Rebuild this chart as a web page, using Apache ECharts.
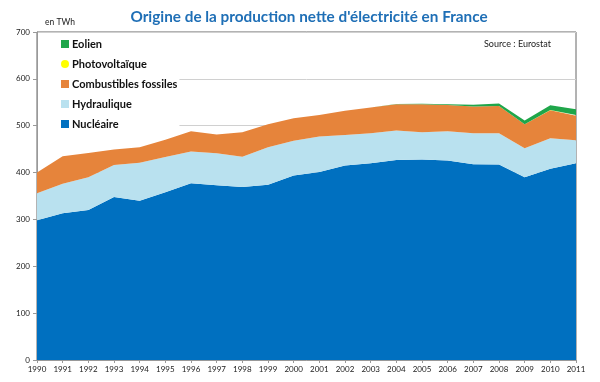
<!DOCTYPE html>
<html>
<head>
<meta charset="utf-8">
<script src="https://cdn.jsdelivr.net/npm/echarts@6/dist/echarts.min.js"></script>
<style>html,body{margin:0;padding:0;background:#fff}#c{width:600px;height:382px}</style>
</head>
<body>
<div id="c"></div>
<script>
const years = ['1990','1991','1992','1993','1994','1995','1996','1997','1998','1999','2000','2001','2002','2003','2004','2005','2006','2007','2008','2009','2010','2011'];
const nucleaire = [298,313,320,348,340,358,377,373,369,374,394,401,415,420,427,428,426,418,417,390,408,420];
const hydraulique = [58,63,70,68,81,75,68,68,65,80,74,76,65,64,63,58,62,66,67,62,65,49];
const fossiles = [44,59,52,33,33,37,43,40,52,49,48,46,52,55,56,60,56,57,58,51,60,52];
const photovoltaique = [0,0,0,0,0,0,0,0,0,0,0,0,0,0,0,0,0,0,0.1,0.2,0.6,2];
const eolien = [0,0,0,0,0,0,0,0,0,0,0,0,0,0,0.5,1,2,4,5.5,8,10,12];
const yTicks = [0,100,200,300,400,500,600,700];

const FONT = 'Lato, "Open Sans", sans-serif';
const chart = echarts.init(document.getElementById('c'), null, {renderer:'canvas'});
function area(name, data, color){
  return {name, type:'line', stack:'total', data, symbol:'none', showSymbol:false,
    lineStyle:{width:0}, areaStyle:{color, opacity:1}, itemStyle:{color}, z:2, animation:false};
}
chart.setOption({
  animation:false,
  backgroundColor:'#fff',
  title:{text:"Origine de la production nette d'électricité en France", left:304, textAlign:'center', top:5,
    textStyle:{fontFamily:FONT, fontSize:15.3, fontWeight:'bold', color:'#1f6fb6'}},
  graphic:[
    {type:'text', left:45, top:18, style:{text:'en TWh', fontFamily:FONT, fontSize:8.5, fill:'#222'}},
    {type:'text', left:484, top:40, z:10, style:{text:'Source : Eurostat', fontFamily:FONT, fontSize:9, fill:'#222'}}
  ],
  legend:{orient:'vertical', left:38, top:34, backgroundColor:'#fff',
    padding:[3,2,0,23], itemWidth:8, itemHeight:8, itemGap:6,
    textStyle:{fontFamily:FONT, fontSize:11, fontWeight:'bold', color:'#111', lineHeight:14, padding:[0,0,0,-2]},
    data:[{name:'Eolien', icon:'rect'},{name:'Photovoltaïque', icon:'circle'},{name:'Combustibles fossiles', icon:'rect'},{name:'Hydraulique', icon:'rect'},{name:'Nucléaire', icon:'rect'}]},
  grid:{left:37, right:24, top:32, bottom:22, show:true, borderColor:'#666', borderWidth:1, backgroundColor:'transparent'},
  xAxis:{type:'category', data:years, boundaryGap:false,
    axisLine:{lineStyle:{color:'#999'}}, axisTick:{show:true, length:3, lineStyle:{color:'#999'}},
    axisLabel:{fontFamily:FONT, fontSize:8, color:'#222', margin:5, interval:0}},
  yAxis:{type:'value', min:0, max:700, interval:100,
    axisLine:{show:true, lineStyle:{color:'#999'}}, axisTick:{show:true, length:4, lineStyle:{color:'#999'}},
    axisLabel:{fontFamily:FONT, fontSize:8, color:'#222', margin:7, formatter:(v)=> yTicks.includes(v)? String(v):''},
    splitLine:{show:true, lineStyle:{color:'#d0d0d0'}}},
  series:[
    area('Nucléaire', nucleaire, '#0070c0'),
    area('Hydraulique', hydraulique, '#b9e1ef'),
    area('Combustibles fossiles', fossiles, '#e6843b'),
    area('Photovoltaïque', photovoltaique, '#ffff00'),
    area('Eolien', eolien, '#1fa64a')
  ]
});
</script>
</body>
</html>
